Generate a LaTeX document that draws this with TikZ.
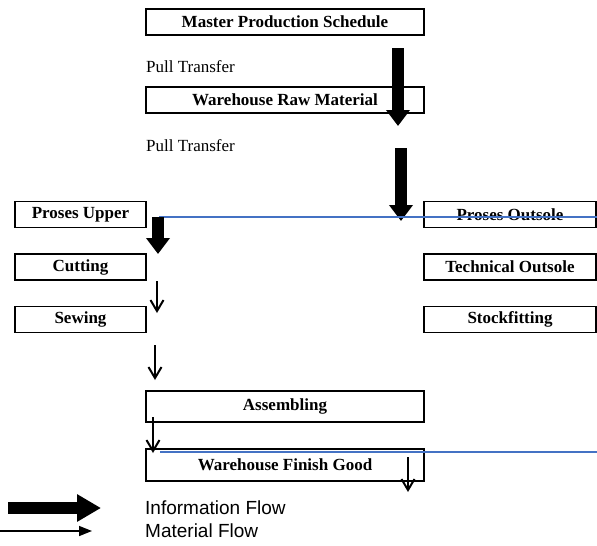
\documentclass[tikz,border=0pt]{standalone}
\usepackage{fontspec}
\setmainfont{Liberation Serif}
\newfontfamily\legendfont{Liberation Sans}
\usetikzlibrary{arrows.meta}
\definecolor{linkblue}{RGB}{68,114,196}

\begin{document}
\begin{tikzpicture}[x=1pt,y=-1pt,
  stage/.style={draw,line width=1.6pt,inner sep=0pt,minimum height=26pt,
    font=\fontsize{17}{20}\selectfont\bfseries},
  note/.style={anchor=west,inner sep=0pt,font=\fontsize{17}{20}\selectfont},
  key/.style={anchor=west,inner sep=0pt,font=\legendfont\fontsize{19}{22}\selectfont},
  info/.style={line width=12pt,-{Triangle[width=23pt,length=16pt]}},
  material/.style={line width=2pt,-{Straight Barb[width=13pt,length=11pt]}},
  link/.style={line width=2.5pt,draw=linkblue}]
  \useasboundingbox (0,0) rectangle (597,546);
  % stages
  \node[stage,minimum width=278pt] (mps) at (285,22) {Master Production Schedule};
  \node[stage,minimum width=278pt] (rawmat) at (285,100) {Warehouse Raw Material};
  \node[stage,minimum width=131pt] (upper) at (80.5,214.5) {Proses Upper};
  \node[stage,minimum width=172pt] (outsole) at (510,214.5) {Proses Outsole};
  \node[stage,minimum width=131pt] (cutting) at (80.5,267) {Cutting};
  \node[stage,minimum width=172pt] (technical) at (510,267) {Technical Outsole};
  \node[stage,minimum width=131pt] (sewing) at (80.5,319.5) {Sewing};
  \node[stage,minimum width=172pt] (stockfit) at (510,319.5) {Stockfitting};
  \node[stage,minimum width=278pt,minimum height=31pt] (assembly) at (285,406.5) {Assembling};
  \node[stage,minimum width=278pt,minimum height=32pt] (finish) at (285,465) {Warehouse Finish Good};
  \node[note] (pull1) at (146,67) {Pull Transfer};
  \node[note] (pull2) at (146,146) {Pull Transfer};
  % arrow ends
  \coordinate (i1a) at (398,48);  \coordinate (i1b) at (398,126);
  \coordinate (i2a) at (401,148); \coordinate (i2b) at (401,221);
  \coordinate (i3a) at (158,217); \coordinate (i3b) at (158,254);
  \coordinate (m1a) at (157,281); \coordinate (m1b) at (157,313);
  \coordinate (m2a) at (155,345); \coordinate (m2b) at (155,380);
  \coordinate (m3a) at (153,417); \coordinate (m3b) at (153,453);
  \coordinate (m4a) at (408,457); \coordinate (m4b) at (408,492);
  \coordinate (b1a) at (159,217); \coordinate (b1b) at (597,217);
  \coordinate (b2a) at (160,452); \coordinate (b2b) at (597,452);
  % flows
  \draw[info] (i1a) -- (i1b);
  \draw[info] (i2a) -- (i2b);
  \draw[link] (b1a) -- (b1b);
  \draw[info] (i3a) -- (i3b);
  \draw[material] (m1a) -- (m1b);
  \draw[material] (m2a) -- (m2b);
  \draw[material] (m3a) -- (m3b);
  \draw[link] (b2a) -- (b2b);
  \draw[material] (m4a) -- (m4b);
  % legend
  \node[key] (infokey) at (145,508) {Information Flow};
  \node[key] (matkey) at (145,531) {Material Flow};
  \coordinate (l1a) at (8,508);  \coordinate (l1b) at (101,508);
  \coordinate (l2a) at (0,531);  \coordinate (l2b) at (92,531);
  \draw[line width=12pt,-{Triangle[width=26pt,length=24pt]}] (l1a) -- (l1b);
  \draw[line width=1.5pt,-{Triangle[width=10pt,length=13pt]}] (l2a) -- (l2b);
\end{tikzpicture}
\end{document}
